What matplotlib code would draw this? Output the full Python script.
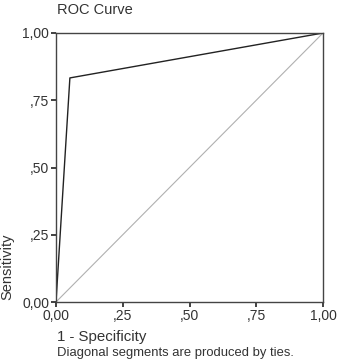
import matplotlib
matplotlib.use("Agg")
import matplotlib.pyplot as plt

# Data
fpr = [0.0, 0.052, 1.0]
tpr = [0.0, 0.833, 1.0]
diag = [0.0, 1.0]
ticks = [0.0, 0.25, 0.5, 0.75, 1.0]
tick_labels = ["0,00", ",25", ",50", ",75", "1,00"]

plt.rcParams['font.family'] = ['Liberation Sans', 'DejaVu Sans']

W, H = 338, 362
fig = plt.figure(figsize=(W / 100, H / 100), dpi=100)
ax = fig.add_axes([56 / W, 1 - 302 / H, (323 - 56) / W, (302 - 33) / H])

ax.plot(diag, diag, color='#b0b0b0', lw=0.8)
ax.plot(fpr, tpr, color='#222222', lw=1.0)

ax.set_xlim(0, 1)
ax.set_ylim(0, 1)
ax.set_xticks(ticks)
ax.set_xticklabels(tick_labels)
ax.set_yticks(ticks)
ax.set_yticklabels(tick_labels)
ax.tick_params(direction='out', length=3.3, width=1.3, color='#333333',
               labelsize=10, labelcolor='#333333', pad=1.5)
for s in ax.spines.values():
    s.set_color('#444444')
    s.set_linewidth(1.0)

fig.text(57 / W, 1 - 10 / H, "ROC Curve", fontsize=10.5, color='#333333',
         ha='left', va='center')
fig.text(57 / W, 1 - 337 / H, "1 - Specificity", fontsize=10.8, color='#333333',
         ha='left', va='center')
fig.text(57 / W, 1 - 353 / H, "Diagonal segments are produced by ties.",
         fontsize=9.4, color='#333333', ha='left', va='center')
fig.text(7 / W, 1 - 267 / H, "Sensitivity", fontsize=10.5, color='#333333',
         rotation=90, ha='center', va='center')

fig.savefig("out.png", dpi=100)
